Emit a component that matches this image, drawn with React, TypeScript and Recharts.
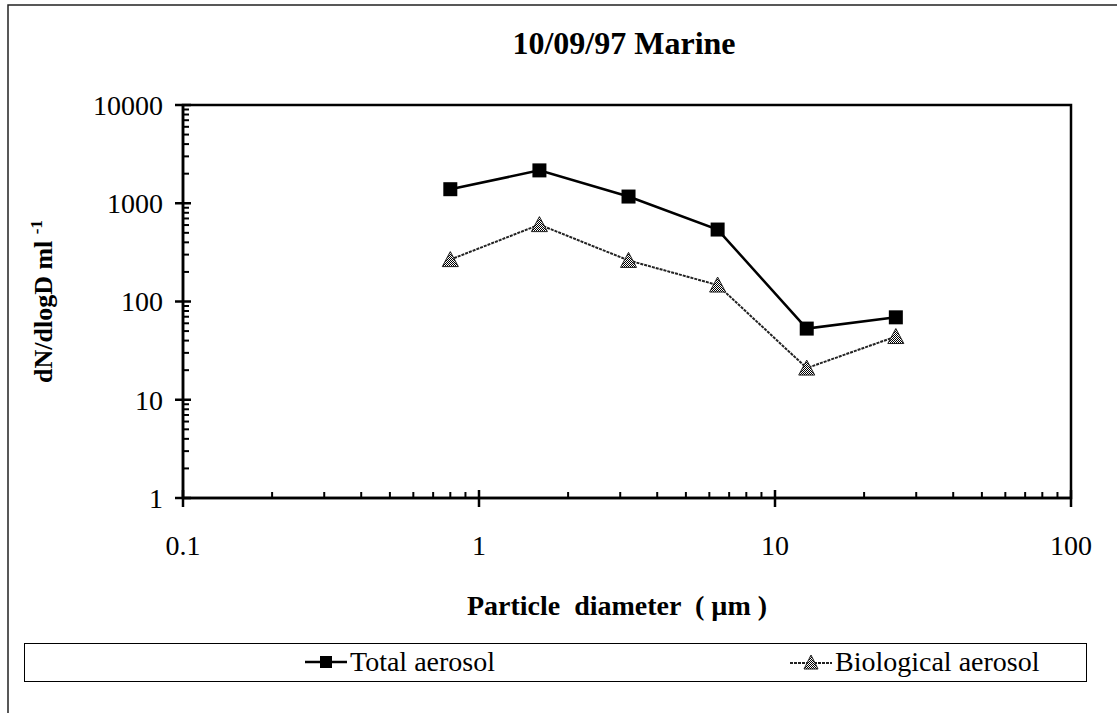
import React from 'react';
import { LineChart, Line, XAxis, YAxis, ReferenceArea } from 'recharts';

// particle size bins (µm) and concentrations
const diameters = [0.8, 1.6, 3.2, 6.4, 12.8, 25.6];
const totalAerosol = [1390, 2160, 1170, 540, 53, 69];
const biologicalAerosol = [267, 606, 262, 147, 21, 44];

const xDecades = [0.1, 1, 10, 100];
const yDecades = [1, 10, 100, 1000, 10000];
const minorSteps = [2, 3, 4, 5, 6, 7, 8, 9];

const W = 1117;
const H = 713;
const PLOT_LEFT = 183;
const PLOT_RIGHT = 1071;
const PLOT_TOP = 105;
const PLOT_BOTTOM = 498;
const Y_AXIS_W = 120;
const X_AXIS_H = 60;
const FONT = '"Liberation Serif", "Times New Roman", serif';

const logTicks = (decades: number[]) => {
  const out: number[] = [];
  decades.forEach((d, i) => {
    out.push(d);
    if (i < decades.length - 1) minorSteps.forEach((m) => out.push(d * m));
  });
  return out;
};

const chartData = diameters.map((d, i) => ({
  d,
  total: totalAerosol[i],
  bio: biologicalAerosol[i],
}));

const XTick = (props: any) => {
  const { x, payload } = props;
  const v = payload.value;
  if (xDecades.includes(v)) {
    return (
      <g>
        <line x1={x} x2={x} y1={PLOT_BOTTOM - 8} y2={PLOT_BOTTOM + 9} stroke="#000" strokeWidth={2.5} />
        <text x={x} y={PLOT_BOTTOM + 57} textAnchor="middle" fontFamily={FONT} fontSize={28} fill="#000">
          {String(v)}
        </text>
      </g>
    );
  }
  return <line x1={x} x2={x} y1={PLOT_BOTTOM - 6} y2={PLOT_BOTTOM} stroke="#000" strokeWidth={2} />;
};

const YTick = (props: any) => {
  const { y, payload } = props;
  const v = payload.value;
  if (yDecades.includes(v)) {
    return (
      <g>
        <line x1={PLOT_LEFT - 8} x2={PLOT_LEFT + 8} y1={y} y2={y} stroke="#000" strokeWidth={2.5} />
        <text x={PLOT_LEFT - 20} y={y} dy="0.35em" textAnchor="end" fontFamily={FONT} fontSize={28} fill="#000">
          {String(v)}
        </text>
      </g>
    );
  }
  return <line x1={PLOT_LEFT} x2={PLOT_LEFT + 6} y1={y} y2={y} stroke="#000" strokeWidth={2} />;
};

const SquareDot = (props: any) => {
  const { cx, cy } = props;
  if (cx == null || cy == null) return null;
  return <rect x={cx - 7} y={cy - 7} width={14} height={14} fill="#000" />;
};

const TriangleDot = (props: any) => {
  const { cx, cy } = props;
  if (cx == null || cy == null) return null;
  return (
    <polygon
      points={`${cx},${cy - 8} ${cx + 8},${cy + 7} ${cx - 8},${cy + 7}`}
      fill="url(#checker)"
      stroke="#222"
      strokeWidth={1}
    />
  );
};

const LegendItem = ({ kind, label, left }: { kind: 'square' | 'triangle'; label: string; left: number }) => (
  <div style={{ position: 'absolute', left, top: 0, height: 36, display: 'flex', alignItems: 'center' }}>
    <svg width={42} height={20} style={{ marginRight: 3 }}>
      {kind === 'square' ? (
        <>
          <line x1={0} x2={42} y1={10} y2={10} stroke="#000" strokeWidth={2.5} />
          <rect x={15} y={4} width={12} height={12} fill="#000" />
        </>
      ) : (
        <>
          <line x1={0} x2={42} y1={11} y2={11} stroke="#222" strokeWidth={2} strokeDasharray="3 1" />
          <polygon points="21,3 28,17 14,17" fill="url(#checker)" stroke="#222" strokeWidth={1} />
        </>
      )}
    </svg>
    <span style={{ fontFamily: FONT, fontSize: 28, color: '#000' }}>{label}</span>
  </div>
);

export default function App() {
  return (
    <div style={{ position: 'absolute', left: 0, top: 0, width: W, height: H, background: '#fff' }}>
      <svg width={0} height={0} style={{ position: 'absolute' }}>
        <defs>
          <pattern id="checker" width={2} height={2} patternUnits="userSpaceOnUse">
            <rect width={2} height={2} fill="#fff" />
            <rect width={1} height={1} fill="#000" />
            <rect x={1} y={1} width={1} height={1} fill="#000" />
          </pattern>
        </defs>
      </svg>
      <LineChart
        width={W}
        height={H}
        data={chartData}
        margin={{
          top: PLOT_TOP,
          right: W - PLOT_RIGHT,
          left: PLOT_LEFT - Y_AXIS_W,
          bottom: H - PLOT_BOTTOM - X_AXIS_H,
        }}
      >
        <rect x={8} y={5} width={1300} height={900} fill="none" stroke="#222" strokeWidth={1.5} />
        <text x={624} y={54} textAnchor="middle" fontFamily={FONT} fontSize={32} fontWeight="bold" fill="#000">
          10/09/97 Marine
        </text>
        <text
          x={617}
          y={615}
          textAnchor="middle"
          fontFamily={FONT}
          fontSize={28}
          fontWeight="bold"
          fill="#000"
          style={{ whiteSpace: 'pre' }}
        >
          {'Particle  diameter  ( µm )'}
        </text>
        <text
          transform={`translate(52, ${(PLOT_TOP + PLOT_BOTTOM) / 2}) rotate(-90)`}
          textAnchor="middle"
          fontFamily={FONT}
          fontSize={26}
          fontWeight="bold"
          fill="#000"
        >
          dN/dlogD ml <tspan dy={-10} fontSize={17}>-1</tspan>
        </text>
        <XAxis
          dataKey="d"
          type="number"
          scale="log"
          domain={[0.1, 100]}
          ticks={logTicks(xDecades)}
          interval={0}
          tick={<XTick />}
          tickLine={false}
          axisLine={{ stroke: '#000', strokeWidth: 2.5 }}
          height={X_AXIS_H}
          allowDataOverflow
        />
        <YAxis
          type="number"
          scale="log"
          domain={[1, 10000]}
          ticks={logTicks(yDecades)}
          interval={0}
          tick={<YTick />}
          tickLine={false}
          axisLine={{ stroke: '#000', strokeWidth: 2.5 }}
          width={Y_AXIS_W}
          allowDataOverflow
        />
        <ReferenceArea x1={0.1} x2={100} y1={1} y2={10000} fill="none" stroke="#000" strokeWidth={2.5} />
        <Line
          dataKey="bio"
          stroke="#222"
          strokeWidth={2}
          strokeDasharray="3 1"
          dot={<TriangleDot />}
          isAnimationActive={false}
        />
        <Line
          dataKey="total"
          stroke="#000"
          strokeWidth={2.5}
          dot={<SquareDot />}
          isAnimationActive={false}
        />
      </LineChart>
      <div
        style={{
          position: 'absolute',
          left: 24,
          top: 643,
          width: 1063,
          height: 39,
          border: '1.5px solid #000',
          boxSizing: 'border-box',
          background: '#fff',
        }}
      >
        <LegendItem kind="square" label="Total aerosol" left={280} />
        <LegendItem kind="triangle" label="Biological aerosol" left={765} />
      </div>
    </div>
  );
}
